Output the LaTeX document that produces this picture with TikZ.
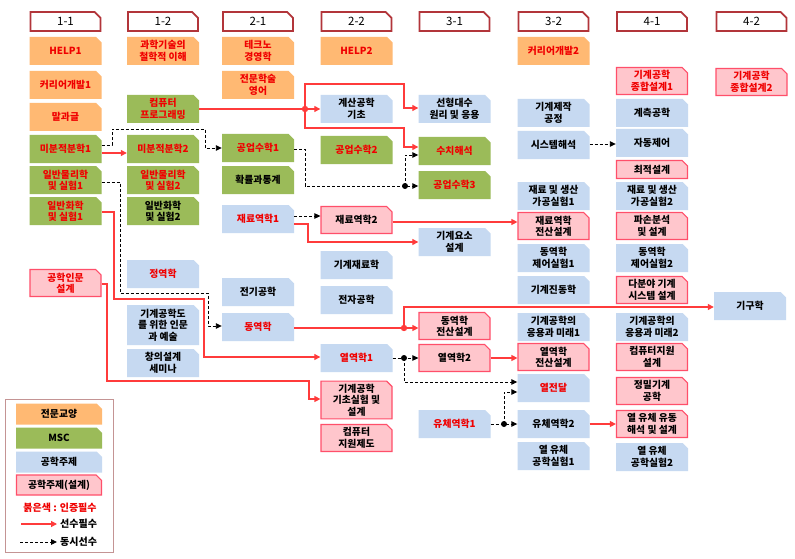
\documentclass[tikz,border=0pt]{standalone}
\usepackage{fontspec}
\newfontfamily\kr{Noto Sans CJK KR}
\usetikzlibrary{shapes.misc,arrows.meta}
\definecolor{orF}{HTML}{FFB973}
\definecolor{grF}{HTML}{9BBB59}
\definecolor{blF}{HTML}{C6D9F1}
\definecolor{pkF}{HTML}{FFC6CC}
\definecolor{pkD}{HTML}{FF4F6A}
\definecolor{redT}{HTML}{F00000}
\definecolor{hdD}{HTML}{B2353A}
\definecolor{lnR}{HTML}{FF3B3B}
\definecolor{lgD}{HTML}{C49494}
\tikzset{
  cbox/.style={chamfered rectangle, chamfered rectangle corners=north east,
    chamfered rectangle xsep=2.5pt, minimum width=72pt, minimum height=28pt,
    inner sep=0pt, align=center, text=black,
    font=\kr\bfseries\fontsize{9.8}{11.4}\selectfont},
  orng/.style={cbox, fill=orF},
  grn/.style={cbox, fill=grF},
  blu/.style={cbox, fill=blF},
  pnk/.style={cbox, fill=pkF, draw=pkD, line width=1.2pt, minimum width=71pt, minimum height=27pt},
  rt/.style={text=redT},
  hdr/.style={chamfered rectangle, chamfered rectangle corners=north east,
    chamfered rectangle xsep=3pt, minimum width=70pt, minimum height=19pt,
    inner sep=0pt, draw=hdD, line width=1.9pt, fill=white,
    font=\kr\fontsize{11.5}{13}\selectfont},
  req/.style={draw=lnR, line width=1.2pt, -{Triangle[length=6pt,width=6pt]}},
  coreq/.style={draw=black, line width=0.9pt, dash pattern=on 3pt off 2pt, -{Triangle[length=6pt,width=5.5pt]}},
  rdot/.style={fill=lnR},
  kdot/.style={fill=black},
  lgbox/.style={minimum width=86pt, minimum height=21pt},
  lgtxt/.style={font=\kr\bfseries\fontsize{10}{11}\selectfont},
}
\begin{document}
\begin{tikzpicture}[x=1pt,y=-1pt]
\useasboundingbox[fill=white] (0,0) rectangle (795,559);
% headers
\node[hdr] (h11) at (65.5,21.5) {1-1};
\node[hdr] (h12) at (163,21.5) {1-2};
\node[hdr] (h21) at (258,21.5) {2-1};
\node[hdr] (h22) at (356.5,21.5) {2-2};
\node[hdr] (h31) at (454.5,21.5) {3-1};
\node[hdr] (h32) at (553.5,21.5) {3-2};
\node[hdr] (h41) at (652,21.5) {4-1};
\node[hdr] (h42) at (751.5,21.5) {4-2};
% column 1-1
\node[orng,rt] (a1) at (65.5,51) {HELP1};
\node[orng,rt] (a2) at (65.5,85) {커리어개발1};
\node[orng,rt] (a3) at (65.5,117) {말과글};
\node[grn,rt] (m1) at (65.5,149) {미분적분학1};
\node[grn,rt] (gp1) at (65.5,180) {일반물리학\\및 실험1};
\node[grn,rt] (gc1) at (65.5,211) {일반화학\\및 실험1};
\node[pnk,rt] (ge) at (65.5,283) {공학인문\\설계};
% column 1-2
\node[orng,rt] (b1) at (163,51) {과학기술의\\철학적 이해};
\node[grn,rt] (cp) at (163,109) {컴퓨터\\프로그래밍};
\node[grn,rt] (m2) at (163,149) {미분적분학2};
\node[grn,rt] (gp2) at (163,180) {일반물리학\\및 실험2};
\node[grn] (gc2) at (163,211) {일반화학\\및 실험2};
\node[blu,rt] (jy) at (163,274) {정역학};
\node[blu,minimum height=40pt] (ha) at (163,325) {기계공학도\\를 위한 인문\\과 예술};
\node[blu] (cs) at (163,363) {창의설계\\세미나};
% column 2-1
\node[orng,rt] (c1) at (258,51) {테크노\\경영학};
\node[orng,rt] (c2) at (258,85) {전문학술\\영어};
\node[grn,rt] (gs1) at (258,148) {공업수학1};
\node[grn] (ht) at (258,180) {확률과통계};
\node[blu,rt] (jr1) at (258,219) {재료역학1};
\node[blu] (jg) at (258,292) {전기공학};
\node[blu,rt] (dy) at (258,327) {동역학};
% column 2-2
\node[orng,rt] (hp2) at (356.5,51) {HELP2};
\node[blu] (cb) at (356.5,109) {계산공학\\기초};
\node[grn,rt] (gs2) at (356.5,150) {공업수학2};
\node[pnk] (jr2) at (356.5,220) {재료역학2};
\node[blu] (gj) at (356.5,265) {기계재료학};
\node[blu] (ja) at (356.5,300) {전자공학};
\node[blu,rt] (yr1) at (356.5,358) {열역학1};
\node[pnk,minimum height=34pt] (gk) at (356.5,400) {기계공학\\기초실험 및\\설계};
\node[pnk] (cj) at (356.5,438) {컴퓨터\\지원제도};
% column 3-1
\node[blu] (ln) at (454.5,109) {선형대수\\원리 및 응용};
\node[grn,rt] (nh) at (454.5,151) {수치해석};
\node[grn,rt] (gs3) at (454.5,185) {공업수학3};
\node[blu] (gy) at (454.5,242) {기계요소\\설계};
\node[pnk] (dys) at (454.5,326) {동역학\\전산설계};
\node[pnk] (yr2) at (454.5,358) {열역학2};
\node[blu,rt] (ch1) at (454.5,424) {유체역학1};
% column 3-2
\node[orng,rt] (e1) at (553.5,51) {커리어개발2};
\node[blu] (gm) at (553.5,113) {기계제작\\공정};
\node[blu] (sh) at (553.5,145) {시스템해석};
\node[blu] (jp1) at (553.5,196) {재료 및 생산\\가공실험1};
\node[pnk] (jrs) at (553.5,226) {재료역학\\전산설계};
\node[blu] (dj1) at (553.5,258) {동역학\\제어실험1};
\node[blu] (gv) at (553.5,290) {기계진동학};
\node[blu] (ea1) at (553.5,327) {기계공학의\\응용과 미래1};
\node[pnk] (yrs) at (553.5,357) {열역학\\전산설계};
\node[blu,rt] (yj) at (553.5,388) {열전달};
\node[blu] (ch2) at (553.5,424) {유체역학2};
\node[blu] (yl1) at (553.5,456) {열 유체\\공학실험1};
% column 4-1
\node[pnk,rt] (f1) at (652,81) {기계공학\\종합설계1};
\node[blu] (gc) at (652,113) {계측공학};
\node[blu] (ad) at (652,143) {자동제어};
\node[pnk,minimum height=18pt] (cd) at (652,169.5) {최적설계};
\node[blu] (jp2) at (652,196) {재료 및 생산\\가공실험2};
\node[pnk] (ps) at (652,226) {파손분석\\및 설계};
\node[blu] (dj2) at (652,258) {동역학\\제어실험2};
\node[pnk] (db) at (652,290) {다분야 기계\\시스템 설계};
\node[blu] (ea2) at (652,327) {기계공학의\\응용과 미래2};
\node[pnk] (cw) at (652,357) {컴퓨터지원\\설계};
\node[pnk] (jm) at (652,391) {정밀기계\\공학};
\node[pnk] (yf) at (652,424) {열 유체 유동\\해석 및 설계};
\node[blu] (yl2) at (652,457) {열 유체\\공학실험2};
% column 4-2
\node[pnk,rt] (f2) at (751.5,82) {기계공학\\종합설계2};
\node[blu] (gg) at (750,306) {기구학};
% junction points
\coordinate (j1) at (305,109);
\coordinate (j2) at (404,328);
\coordinate (j3) at (405,186);
\coordinate (j4) at (404,358);
\coordinate (j5) at (504,424);
% red (prerequisite) connectors
\draw[req] (m1.east |- 0,153) -- (m2.west |- 0,153);
\draw[req] (cp.east) -- (cb.west);
\draw[req] (j1) -- (305,84) -- (404,84) -- (404,108) -- (ln.west |- 0,108);
\draw[req] (j1) -- (305,128) -- (404,128) -- (404,147) -- (nh.west |- 0,147);
\draw[req] (jr1.east |- 0,224) -- (308,224) -- (308,242) -- (gy.west |- 0,242);
\draw[req] (jr2.east |- 0,222) -- (jrs.west |- 0,222);
\draw[req] (dy.east |- 0,328) -- (dys.west |- 0,328);
\draw[req] (j2) -- (404,307) -- (gg.west |- 0,307);
\draw[req] (yr2.east |- 0,358) -- (yrs.west |- 0,358);
\draw[req] (ch2.east) -- (yf.west);
\draw[req] (gc1.east |- 0,212) -- (114,212) -- (114,299) -- (204,299) -- (204,357) -- (yr1.west |- 0,357);
\draw[req] (ge.east |- 0,284) -- (107,284) -- (107,381) -- (309,381) -- (309,399) -- (gk.west |- 0,399);
\fill[rdot] (j1) circle[radius=3.2pt];
\fill[rdot] (j2) circle[radius=3.2pt];
% dashed (co-requisite) connectors
\draw[coreq] (m1.east |- 0,145) -- (112,145) -- (112,129) -- (205,129) -- (205,148) -- (gs1.west |- 0,148);
\draw[coreq] (gp1.east |- 0,182) -- (120,182) -- (120,293) -- (208,293) -- (208,326) -- (dy.west |- 0,326);
\draw[coreq] (gs1.east |- 0,149) -- (305,149) -- (305,186) -- (gs3.west |- 0,186);
\draw[coreq] (j3) -- (405,155) -- (nh.west |- 0,155);
\draw[coreq] (jr1.east |- 0,216) -- (jr2.west |- 0,216);
\draw[coreq] (sh.east |- 0,144) -- (ad.west |- 0,144);
\draw[coreq] (yr1.east |- 0,358) -- (yr2.west |- 0,358);
\draw[coreq] (j4) -- (404,382) -- (yj.west |- 0,382);
\draw[coreq] (ch1.east) -- (ch2.west);
\draw[coreq] (j5) -- (504,392) -- (yj.west |- 0,392);
\fill[kdot] (j3) circle[radius=3pt];
\fill[kdot] (j4) circle[radius=3pt];
\fill[kdot] (j5) circle[radius=3pt];
% legend
\node[draw=lgD, line width=1.5pt, minimum width=108pt, minimum height=153pt, inner sep=0pt] (lg) at (59.5,476) {};
\node[orng,lgbox] (l1) at (59,414) {전문교양};
\node[grn,lgbox] (l2) at (59,438) {MSC};
\node[blu,lgbox] (l3) at (59,462) {공학주제};
\node[pnk,lgbox,minimum width=85pt,minimum height=20pt] (l4) at (59,485) {공학주제(설계)};
\node[lgtxt, text=redT] (l5) at (60,508) {붉은색 : 인증필수};
\coordinate (la1) at (21,524);
\coordinate (la2) at (57,524);
\coordinate (lb1) at (20,542);
\coordinate (lb2) at (57,542);
\draw[req] (la1) -- (la2);
\draw[coreq] (lb1) -- (lb2);
\node[lgtxt, anchor=west, inner sep=0pt] (l6) at (60,524) {선수필수};
\node[lgtxt, anchor=west, inner sep=0pt] (l7) at (60,542) {동시선수};
\end{tikzpicture}
\end{document}
